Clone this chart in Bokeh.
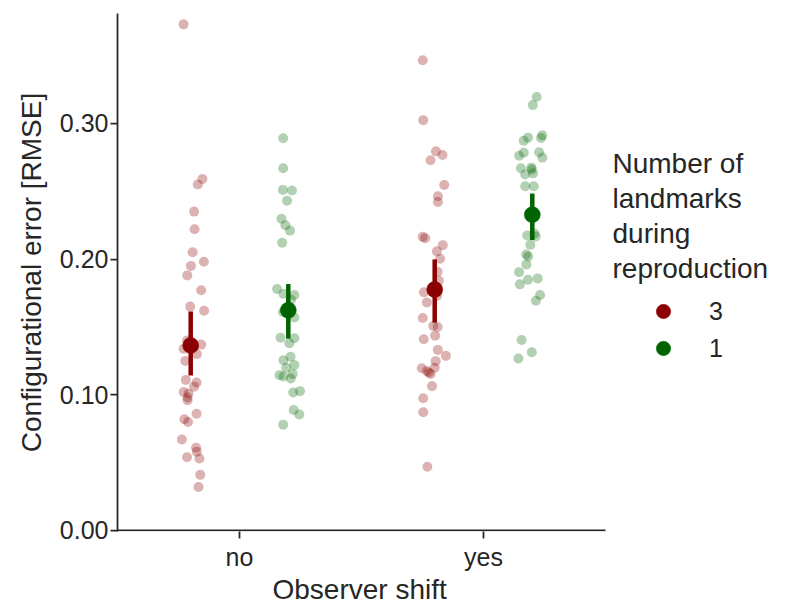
from bokeh.plotting import figure
from bokeh.models import (Range1d, FixedTicker, NumeralTickFormatter, Label,
                          Legend, LegendItem, Title)
from bokeh.embed import file_html
from bokeh.resources import INLINE

# Categories on the x axis and the hue levels (landmarks during reproduction)
categories = ["no", "yes"]
hue_levels = ["3", "1"]
hue_colors = ["#8b0000", "#006400"]
hue_dodge = [-0.2, 0.2]

# Per-trial configurational error (RMSE) and the horizontal jitter of each strip point
rmse_no_3 = [0.373, 0.259, 0.255, 0.235, 0.222, 0.205, 0.195, 0.198, 0.188, 0.177,
             0.165, 0.162, 0.140, 0.134, 0.137, 0.130, 0.125, 0.111, 0.109, 0.106,
             0.102, 0.101, 0.098, 0.096, 0.086, 0.082, 0.080, 0.067, 0.061, 0.058,
             0.054, 0.053, 0.041, 0.032]
jit_no_3 = [-0.029, 0.048, 0.029, 0.014, 0.016, 0.008, 0.001, 0.054, -0.014, 0.043,
            -0.002, 0.055, -0.015, -0.029, 0.043, 0.025, -0.022, -0.020, 0.024, 0.014,
            -0.029, -0.009, -0.013, -0.013, 0.024, -0.026, -0.011, -0.036, 0.022, 0.025,
            -0.015, 0.036, 0.039, 0.032]

rmse_no_1 = [0.289, 0.267, 0.251, 0.2505, 0.243, 0.2297, 0.225, 0.221, 0.212, 0.178,
             0.1745, 0.1735, 0.170, 0.161, 0.157, 0.142, 0.1417, 0.138, 0.128, 0.1255,
             0.122, 0.120, 0.1145, 0.1135, 0.1154, 0.112, 0.1017, 0.1027, 0.0888, 0.0855,
             0.078]
jit_no_1 = [-0.021, -0.021, -0.022, 0.015, -0.005, -0.028, -0.012, 0.007, -0.025, -0.046,
            -0.020, 0.025, 0.011, -0.022, 0.025, -0.032, 0.025, 0.004, 0.009, -0.020,
            0.025, -0.008, -0.036, -0.020, 0.018, 0.010, 0.020, 0.048, 0.022, 0.045,
            -0.021]

rmse_yes_3 = [0.3466, 0.3024, 0.2794, 0.2767, 0.2728, 0.2546, 0.2463, 0.2421, 0.2164, 0.2154,
              0.2103, 0.2057, 0.2002, 0.1907, 0.184, 0.1755, 0.173, 0.1681, 0.1566, 0.1507,
              0.150, 0.1436, 0.141, 0.1331, 0.1287, 0.1248, 0.1199, 0.1196, 0.1176, 0.1164,
              0.1154, 0.1064, 0.0975, 0.0872, 0.047]
jit_yes_3 = [-0.049, -0.047, 0.005, 0.032, -0.017, 0.039, 0.013, 0.013, -0.049, -0.039,
             0.033, 0.009, 0.022, 0.012, 0.017, -0.044, 0.010, -0.032, -0.049, -0.006,
             0.012, 0.002, -0.045, 0.013, 0.046, 0.004, 0.000, -0.053, -0.033, -0.024,
             -0.017, -0.011, -0.047, -0.047, -0.030]

rmse_yes_1 = [0.3194, 0.3135, 0.2895, 0.2873, 0.2912, 0.2892, 0.2784, 0.2762, 0.2787, 0.2748,
              0.2669, 0.2674, 0.266, 0.2623, 0.2632, 0.2537, 0.2537, 0.2174, 0.2167, 0.2189,
              0.2105, 0.2034, 0.202, 0.1961, 0.1904, 0.1814, 0.1848, 0.1858, 0.1735, 0.1693,
              0.1404, 0.1314, 0.1267]
jit_yes_1 = [0.018, 0.002, -0.018, -0.035, 0.041, 0.036, -0.035, -0.054, 0.028, 0.041,
             -0.047, -0.004, -0.002, -0.029, 0.003, -0.029, 0.006, -0.021, 0.014, 0.009,
             -0.008, -0.025, -0.017, -0.024, -0.054, -0.051, -0.018, 0.022, 0.032, 0.015,
             -0.044, -0.002, -0.057]

# 95% bootstrap confidence interval of the mean, per category ("no", "yes")
ci_low_3 = [0.1142, 0.1532]
ci_high_3 = [0.1613, 0.1998]
ci_low_1 = [0.1414, 0.2140]
ci_high_1 = [0.1816, 0.2483]

# y axis ticks
y_ticks = [0.0, 0.1, 0.2, 0.3]

TEXT = "#262626"
FONT = "Liberation Sans"

W, H = 787, 606
LEFT, RIGHT_PAD, TOP, BOTTOM = 117, 0, 13, 75
frame_w = W - LEFT - RIGHT_PAD
frame_h = H - TOP - BOTTOM

# The categorical axis occupies [-0.5, 1.5] over 488 px; the frame continues to the
# right so that the legend can sit beside the axes.
axis_px = 488
x_start, x_end = -0.5, -0.5 + 2.0 * frame_w / axis_px
y_start, y_end = -0.00074, 0.381

p = figure(width=W, height=H, output_backend="svg", toolbar_location=None,
           x_range=Range1d(x_start, x_end), y_range=Range1d(y_start, y_end),
           min_border_left=LEFT, min_border_right=RIGHT_PAD, min_border_top=TOP,
           min_border_bottom=BOTTOM, background_fill_color="white",
           border_fill_color="white")
p.outline_line_color = None
p.grid.visible = False

# x axis: categorical positions 0, 1 (spine drawn separately so it stops at 1.5)
p.xaxis.ticker = FixedTicker(ticks=list(range(len(categories))))
p.xaxis.major_label_overrides = {i: c for i, c in enumerate(categories)}
p.yaxis.ticker = FixedTicker(ticks=y_ticks)
p.yaxis.formatter = NumeralTickFormatter(format="0.00")
p.yaxis.axis_label = "Configurational error [RMSE]"

for ax in (p.xaxis[0], p.yaxis[0]):
    ax.axis_line_color = TEXT
    ax.axis_line_width = 1.75
    ax.major_tick_line_color = TEXT
    ax.major_tick_line_width = 1.75
    ax.major_tick_out = 7
    ax.major_tick_in = 0
    ax.minor_tick_line_color = None
    ax.major_label_text_font = FONT
    ax.major_label_text_font_size = "25px"
    ax.major_label_text_color = TEXT
    ax.axis_label_text_font = FONT
    ax.axis_label_text_font_size = "28px"
    ax.axis_label_text_font_style = "normal"
    ax.axis_label_text_color = TEXT
p.xaxis.axis_line_color = None
p.xaxis.major_label_standoff = 4
p.yaxis.major_label_standoff = 2
p.yaxis.axis_label_standoff = 10

# x axis title, centred under the categorical extent
p.add_layout(Title(text="Observer shift", align="left", offset=155,
                   vertical_align="top", standoff=0, text_font=FONT,
                   text_font_size="28px", text_font_style="normal",
                   text_line_height=0.9, text_color=TEXT), "below")

# bottom spine over the categorical extent only
p.segment(x0=[-0.5], y0=[0.0], x1=[len(categories) - 0.5], y1=[0.0],
          line_color=TEXT, line_width=1.75)

strips = {
    ("3", 0): (rmse_no_3, jit_no_3),
    ("1", 0): (rmse_no_1, jit_no_1),
    ("3", 1): (rmse_yes_3, jit_yes_3),
    ("1", 1): (rmse_yes_1, jit_yes_1),
}
ci = {"3": (ci_low_3, ci_high_3), "1": (ci_low_1, ci_high_1)}

# Strip points (all trials)
for level, color, dx in zip(hue_levels, hue_colors, hue_dodge):
    xs, ys = [], []
    for c in range(len(categories)):
        vals, jit = strips[(level, c)]
        xs += [c + dx + j for j in jit]
        ys += vals
    p.scatter(x=xs, y=ys, size=10, fill_color=color, fill_alpha=0.3,
              line_color=None)

# Means with confidence intervals
legend_items = []
for level, color, dx in zip(hue_levels, hue_colors, hue_dodge):
    lows, highs = ci[level]
    xpos = [c + dx for c in range(len(categories))]
    means = []
    for c in range(len(categories)):
        vals = strips[(level, c)][0]
        means.append(sum(vals) / len(vals))
    p.segment(x0=xpos, y0=lows, x1=xpos, y1=highs, line_color=color, line_width=4.5)
    r = p.scatter(x=xpos, y=means, size=16, fill_color=color, line_color=color,
                  line_width=0.5)
    legend_items.append(LegendItem(label=level, renderers=[r]))

# Legend entries (markers and hue levels), placed right of the axes
legend = Legend(items=legend_items, location=(528, 165), orientation="vertical",
                glyph_width=36, glyph_height=36, spacing=1, padding=0, margin=0,
                label_standoff=28, label_text_font=FONT, label_text_font_size="25px",
                label_text_color=TEXT, border_line_color=None,
                background_fill_alpha=0.0)
p.add_layout(legend, "center")

# Legend title, one line per Label
px_per_x = axis_px / 2.0
px_per_y = frame_h / (y_end - y_start)
title_lines = ["Number of", "landmarks", "during", "reproduction"]
title_x = x_start + (612 - LEFT) / px_per_x
for k, line in enumerate(title_lines):
    baseline_px = 163 + 35 * k
    p.add_layout(Label(x=title_x, y=y_start + (TOP + frame_h - baseline_px) / px_per_y,
                       text=line, text_font=FONT, text_font_size="28px",
                       text_color=TEXT, text_baseline="alphabetic",
                       text_align="left"))

open("out.html", "w").write(file_html(p, INLINE))
